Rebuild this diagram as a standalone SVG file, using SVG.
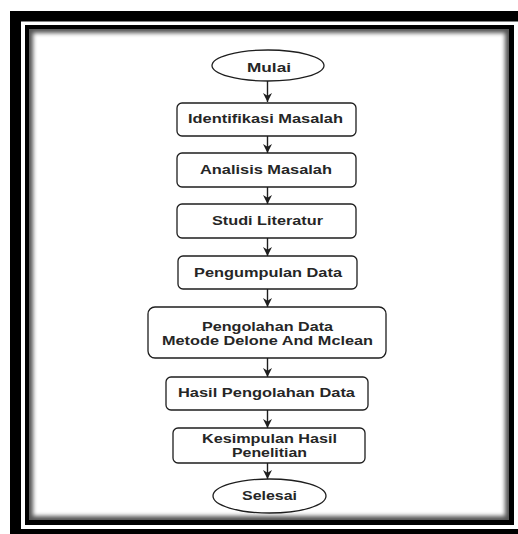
<svg xmlns="http://www.w3.org/2000/svg" width="518" height="534" viewBox="0 0 518 534">
  <defs>
    <style>
      .box { fill: #ffffff; stroke: #1e1e1e; stroke-width: 1.3; }
      .lbl { font-family: "Liberation Sans", Arial, sans-serif; font-weight: bold; font-size: 12px; fill: #262626; text-anchor: middle; }
      .conn { stroke: #1e1e1e; stroke-width: 1.4; fill: none; marker-end: url(#arr); }
    </style>
    <marker id="arr" viewBox="0 0 10 10" refX="10" refY="5" markerWidth="9" markerHeight="9" markerUnits="userSpaceOnUse" orient="auto">
      <path d="M0,0 L10,5 L0,10 L3,5 z" fill="#1e1e1e"/>
    </marker>
    <filter id="soft" x="-5%" y="-5%" width="110%" height="110%">
      <feGaussianBlur stdDeviation="2"/>
    </filter>
    <clipPath id="inner">
      <rect x="29" y="29" width="480" height="491"/>
    </clipPath>
  </defs>

  <!-- frame -->
  <g id="frame">
    <rect x="10" y="11" width="520" height="530" fill="#000"/>
    <rect x="21" y="21.5" width="510" height="507.5" fill="#fff"/>
    <rect x="25" y="25" width="489" height="500" fill="#000"/>
    <g clip-path="url(#inner)">
      <rect x="29" y="29" width="480" height="491" fill="#555"/>
      <rect x="33" y="33" width="472" height="483" fill="#fff" filter="url(#soft)"/>
    </g>
  </g>

  <g id="connectors">
    <line class="conn" x1="267.5" y1="81" x2="267.5" y2="102"/>
    <line class="conn" x1="267.5" y1="136" x2="267.5" y2="153"/>
    <line class="conn" x1="267.5" y1="187" x2="267.5" y2="204"/>
    <line class="conn" x1="267.5" y1="238" x2="267.5" y2="256"/>
    <line class="conn" x1="267.5" y1="289" x2="267.5" y2="307"/>
    <line class="conn" x1="267.5" y1="358" x2="267.5" y2="377"/>
    <line class="conn" x1="267.5" y1="410" x2="267.5" y2="428"/>
    <line class="conn" x1="267.5" y1="463" x2="267.5" y2="479"/>
  </g>

  <g id="mulai">
    <ellipse class="box" cx="268" cy="65.5" rx="56" ry="15.5"/>
    <text class="lbl" x="269" y="72" textLength="44" lengthAdjust="spacingAndGlyphs">Mulai</text>
  </g>
  <g id="identifikasi">
    <rect class="box" x="177" y="103" width="179" height="33" rx="5"/>
    <text class="lbl" x="265.5" y="122.5" textLength="155" lengthAdjust="spacingAndGlyphs">Identifikasi Masalah</text>
  </g>
  <g id="analisis">
    <rect class="box" x="177" y="153" width="179" height="34" rx="5"/>
    <text class="lbl" x="266" y="174" textLength="132" lengthAdjust="spacingAndGlyphs">Analisis Masalah</text>
  </g>
  <g id="studi">
    <rect class="box" x="177" y="204" width="179" height="34" rx="5"/>
    <text class="lbl" x="267.5" y="225" textLength="111" lengthAdjust="spacingAndGlyphs">Studi Literatur</text>
  </g>
  <g id="pengumpulan">
    <rect class="box" x="178" y="256" width="179" height="33" rx="5"/>
    <text class="lbl" x="268" y="276.5" textLength="148" lengthAdjust="spacingAndGlyphs">Pengumpulan Data</text>
  </g>
  <g id="pengolahan">
    <rect class="box" x="148" y="307" width="238" height="51" rx="7"/>
    <text class="lbl" x="267.5" y="331" textLength="131" lengthAdjust="spacingAndGlyphs">Pengolahan Data</text>
    <text class="lbl" x="267.5" y="344.5" textLength="211" lengthAdjust="spacingAndGlyphs">Metode Delone And Mclean</text>
  </g>
  <g id="hasil">
    <rect class="box" x="166" y="377" width="202" height="33" rx="5"/>
    <text class="lbl" x="266.5" y="397" textLength="177" lengthAdjust="spacingAndGlyphs">Hasil Pengolahan Data</text>
  </g>
  <g id="kesimpulan">
    <rect class="box" x="173" y="428" width="192" height="35" rx="5"/>
    <text class="lbl" x="269.5" y="443" textLength="135" lengthAdjust="spacingAndGlyphs">Kesimpulan Hasil</text>
    <text class="lbl" x="269.5" y="456.5" textLength="75" lengthAdjust="spacingAndGlyphs">Penelitian</text>
  </g>
  <g id="selesai">
    <ellipse class="box" cx="269.5" cy="496" rx="56.5" ry="17"/>
    <text class="lbl" x="269.5" y="500" textLength="55" lengthAdjust="spacingAndGlyphs">Selesai</text>
  </g>
</svg>
